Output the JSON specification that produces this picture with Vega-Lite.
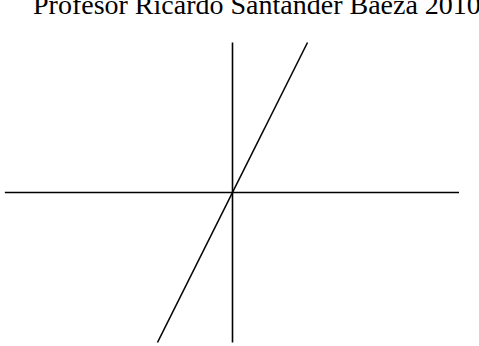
{
  "$schema": "https://vega.github.io/schema/vega-lite/v6.json",
  "width": 479,
  "height": 346,
  "padding": 0,
  "autosize": {"type": "none"},
  "background": "white",
  "config": {"view": {"stroke": null}},
  "title": {
    "text": "Profesor Ricardo Santander Baeza 2010",
    "anchor": "start",
    "frame": "group",
    "orient": "top",
    "font": "Liberation Serif",
    "fontSize": 28,
    "fontWeight": "normal",
    "color": "black",
    "baseline": "alphabetic",
    "offset": 0,
    "dx": 33,
    "dy": 42
  },
  "datasets": {
    "segs": [
      {"seg": "eje x", "x": -6.07, "y": 0},
      {"seg": "eje x", "x": 6.04, "y": 0},
      {"seg": "eje y", "x": 0, "y": -4},
      {"seg": "eje y", "x": 0, "y": 4},
      {"seg": "recta", "x": -2, "y": -4},
      {"seg": "recta", "x": 2, "y": 4}
    ]
  },
  "data": {"name": "segs"},
  "mark": {"type": "line", "color": "black", "strokeWidth": 1.6, "clip": false},
  "encoding": {
    "x": {"field": "x", "type": "quantitative", "axis": null, "scale": {"domain": [-6.2, 6.5733], "nice": false, "zero": false}},
    "y": {"field": "y", "type": "quantitative", "axis": null, "scale": {"domain": [-4.0933, 5.1333], "nice": false, "zero": false}},
    "detail": {"field": "seg", "type": "nominal"},
    "order": {"field": "y", "type": "quantitative"}
  }
}
